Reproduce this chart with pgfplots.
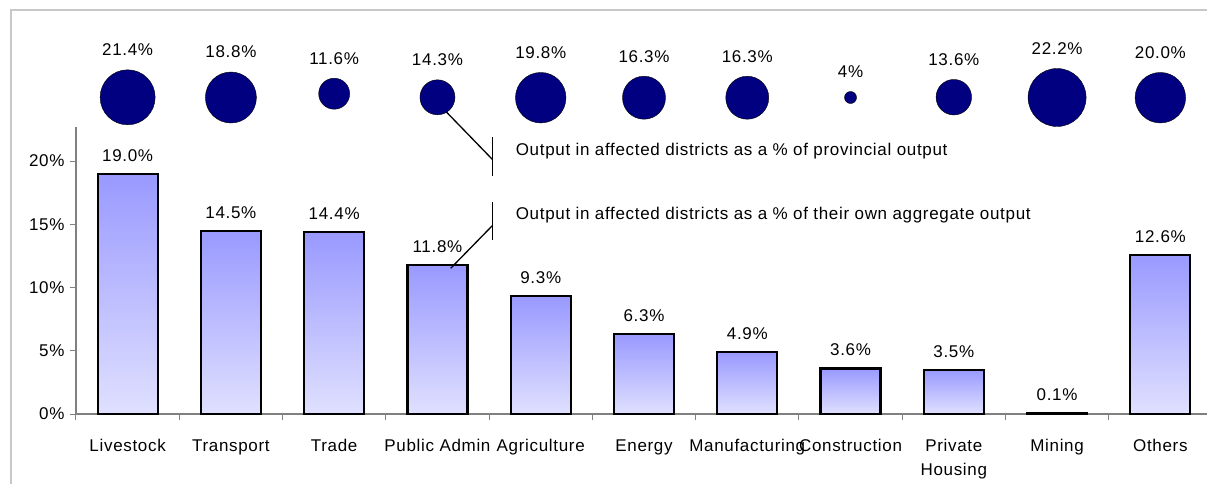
\documentclass[border=0pt]{standalone}
\usepackage{fontspec}
\setmainfont{Liberation Sans}[LetterSpace=4]
\usepackage{pgfplots}
\usepackage{pgfplotstable}
\pgfplotsset{compat=1.18}
\definecolor{navy}{RGB}{0,0,128}
\definecolor{barTop}{RGB}{153,153,255}
\definecolor{barBot}{RGB}{224,224,255}
\definecolor{axgray}{RGB}{128,128,128}
\definecolor{framegray}{RGB}{200,200,200}

\pgfplotstableread{
x  y     lab
0  19.0  19.0
1  14.5  14.5
2  14.4  14.4
3  11.8  11.8
4  9.3   9.3
5  6.3   6.3
6  4.9   4.9
7  3.6   3.6
8  3.5   3.5
9  0.1   0.1
10 12.6  12.6
}\bars

% bubble row (image pixel row of centre), diameter in px, label
\pgfplotstableread{
x  row   d     lab
0  97.3  55    21.4
1  97.5  51    18.8
2  93.7  31    11.6
3  97.3  35    14.3
4  97.7  50.5  19.8
5  97.7  43    16.3
6  97.7  43    16.3
7  97.5  12    4
8  97.2  35.5  13.6
9  97.5  58    22.2
10 97.7  50.5  20.0
}\bubbles

\begin{document}
\begin{tikzpicture}[font=\fontsize{17}{20}\selectfont]
% frame
\draw[framegray, line width=2pt] (11pt,-490pt) -- (11pt,-10pt) -- (1215pt,-10pt);

\begin{axis}[
  at={(76pt,-414pt)}, anchor=south west,
  scale only axis, width=1136pt, height=287pt,
  xmin=-0.5, xmax=10.5, ymin=0, ymax=22.7,
  axis x line*=bottom, axis y line*=left,
  axis line style={axgray, line width=1.5pt},
  ytick={0,5,10,15,20},
  yticklabels={0\%,5\%,10\%,15\%,20\%},
  ytick style={axgray, line width=1pt},
  tick align=outside, major tick length=6pt,
  yticklabel style={font=\fontsize{17}{20}\selectfont, xshift=-2pt},
  xtick={0,...,10},
  xticklabels={Livestock,Transport,Trade,Public Admin,Agriculture,Energy,Manufacturing,Construction,{\begin{tabular}[t]{@{}c@{}}Private\\[3.5pt]Housing\end{tabular}},Mining,Others},
  xtick style={draw=none},
  xticklabel style={font=\fontsize{17}{20}\selectfont, anchor=base, inner sep=0pt, yshift=-31.5pt},
  extra x ticks={-0.5,0.5,...,10.5},
  extra x tick labels={},
  extra x tick style={xtick style={draw=axgray, line width=1pt}, major tick length=6pt},
  clip=false,
]
\pgfplotsinvokeforeach{0,...,10}{
\addplot[ybar, bar width=60pt, draw=black, line width=2.1pt,
  top color=barTop, bottom color=barBot,
  restrict expr to domain={\coordindex}{#1:#1}]
  table[x=x, y=y] {\bars};
}
\addplot[draw=none, mark=none, nodes near coords, point meta=explicit symbolic,
  nodes near coords={\pgfplotspointmeta\%},
  every node near coord/.append style={anchor=base, inner sep=0pt, yshift=12.5pt, font=\fontsize{17}{20}\selectfont, text=black}]
  table[x=x, y=y, meta=lab] {\bars};
\end{axis}

\begin{axis}[
  at={(76pt,-483pt)}, anchor=south west,
  scale only axis, width=1136pt, height=483pt,
  xmin=-0.5, xmax=10.5, ymin=0, ymax=483, y dir=reverse,
  hide axis, clip=false,
]
\addplot[scatter, only marks, mark=*, point meta=\thisrow{d},
  scatter/use mapped color={draw=none, fill=navy},
  visualization depends on={\thisrow{d}/2 \as \rad},
  scatter/@pre marker code/.append style={/tikz/mark size=\rad pt}]
  table[x=x, y=row] {\bubbles};
\addplot[draw=none, mark=none, nodes near coords, point meta=explicit symbolic,
  nodes near coords={\pgfplotspointmeta\%},
  visualization depends on={\thisrow{d}/2+20 \as \lab},
  every node near coord/.append style={anchor=center, inner sep=0pt, yshift=\lab pt, font=\fontsize{17}{20}\selectfont, text=black}]
  table[x=x, y=row, meta=lab] {\bubbles};
% leader lines and notes
\draw[black, line width=1.3pt] (axis cs:3.005,103.3) -- (axis cs:3.531,159.3);
\draw[black, line width=1.3pt] (axis cs:3.531,137.3) -- (axis cs:3.531,176);
\draw[black, line width=1.3pt] (axis cs:3.531,201.7) -- (axis cs:3.531,240);
\draw[black, line width=1.3pt] (axis cs:3.531,225.7) -- (axis cs:3.128,268.3);
\node[anchor=west, inner sep=0pt] at (axis cs:3.757,150.7) {Output in affected districts as a \% of provincial output};
\node[anchor=west, inner sep=0pt] at (axis cs:3.757,215) {Output in affected districts as a \% of their own aggregate output};
\end{axis}

\pgfresetboundingbox
\path[use as bounding box] (0pt,0pt) rectangle (1207pt,-483pt);
\end{tikzpicture}
\end{document}
